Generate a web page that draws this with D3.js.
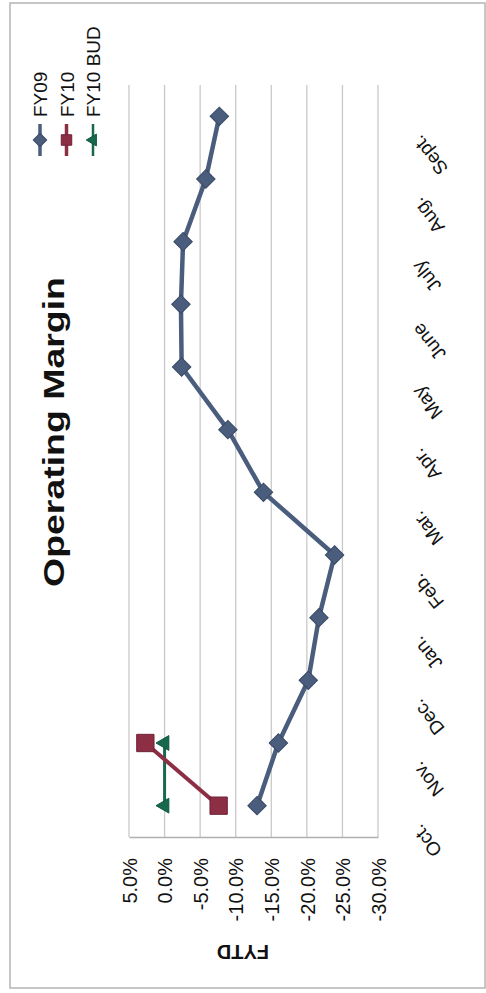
<!DOCTYPE html>
<html>
<head>
<meta charset="utf-8">
<script src="https://cdn.jsdelivr.net/npm/d3@7"></script>
<style>
  html, body { margin: 0; padding: 0; background: #fff; }
  svg { display: block; }
  text { font-family: "Liberation Sans", Arial, sans-serif; }
</style>
</head>
<body>
<svg id="chart" width="486" height="993"></svg>
<script>
// Operating margin, fiscal-year-to-date, by month (page is laid out sideways)
const months = ["Oct.", "Nov.", "Dec.", "Jan.", "Feb.", "Mar.", "Apr.", "May", "June", "July", "Aug.", "Sept."];
const fy09 = [-13.0, -16.0, -20.2, -21.7, -23.9, -13.9, -8.9, -2.4, -2.3, -2.6, -5.8, -7.7];
const fy10 = [-7.6, 2.7];
const fy10Bud = [0.0, 0.0];
const valueTicks = [5, 0, -5, -10, -15, -20, -25, -30];
const seriesNames = ["FY09", "FY10", "FY10 BUD"];

const svg = d3.select("#chart");
const W = 486, H = 993;

svg.append("rect").attr("width", W).attr("height", H).attr("fill", "#fff");
// outer frame
svg.append("rect")
  .attr("x", 10).attr("y", 3).attr("width", 475).attr("height", 985)
  .attr("fill", "none").attr("stroke", "#b4b4b4").attr("stroke-width", 1.5);

// value axis runs left (5%) to right (-30%); months run bottom (Oct.) to top (Sept.)
const x = d3.scaleLinear().domain([5, -30]).range([129, 378]);
const y = d3.scalePoint().domain(months).range([837, 85]).padding(0.5);
const plotTop = 85, plotBottom = 837;

// gridlines
svg.append("g").selectAll("line").data(valueTicks).join("line")
  .attr("x1", d => x(d)).attr("x2", d => x(d))
  .attr("y1", plotTop).attr("y2", plotBottom)
  .attr("stroke", "#c9c9c9").attr("stroke-width", 1.3);

// value axis (labels under the plot, turned to read upward)
const xAxis = svg.append("g")
  .attr("transform", `translate(0,${plotBottom})`)
  .call(d3.axisBottom(x).tickValues(valueTicks).tickSize(0).tickSizeOuter(0)
    .tickFormat(d => d.toFixed(1) + "%"));
xAxis.select(".domain").attr("stroke", "#b0b0b0").attr("stroke-width", 1.3);
xAxis.selectAll(".tick text")
  .attr("transform", "rotate(-90)")
  .attr("x", -21).attr("y", 0).attr("dy", "0.36em")
  .attr("text-anchor", "end")
  .attr("font-size", 20)
  .attr("fill", "#111");

// value axis title
svg.append("text")
  .attr("transform", "translate(243,945) rotate(180)")
  .attr("text-anchor", "middle")
  .attr("font-size", 20).attr("font-weight", "bold").attr("fill", "#111")
  .text("FYTD");

// category axis (month labels on the right side)
const yAxis = svg.append("g")
  .attr("transform", `translate(378,0)`)
  .call(d3.axisRight(y).tickSize(0));
yAxis.select(".domain").remove();
yAxis.selectAll(".tick text")
  .attr("transform", "translate(43,17) rotate(-129)")
  .attr("x", 0).attr("y", 0).attr("dy", 0)
  .attr("text-anchor", "end")
  .attr("font-size", 19)
  .attr("fill", "#111");

// title
svg.append("text")
  .attr("transform", "translate(64,432) rotate(-90)")
  .attr("text-anchor", "middle")
  .attr("font-size", 30).attr("font-weight", "bold").attr("fill", "#111")
  .attr("textLength", 310).attr("lengthAdjust", "spacingAndGlyphs")
  .text("Operating Margin");

const colors = { fy09: "#4a5d7d", fy10: "#8c2f45", bud: "#17684c" };

const line = d3.line().x(d => x(d.v)).y(d => y(d.m));
const pts = arr => arr.map((v, i) => ({ m: months[i], v }));

const diamond = d3.symbol().type(d3.symbolSquare).size(170)();
const square = d3.symbol().type(d3.symbolSquare).size(300)();
const triangle = d3.symbol().type(d3.symbolTriangle).size(95)();

function drawSeries(data, color, width, shape, rot, stroke) {
  svg.append("path").datum(data)
    .attr("d", line).attr("fill", "none")
    .attr("stroke", color).attr("stroke-width", width)
    .attr("stroke-linejoin", "round");
  svg.append("g").selectAll("path").data(data).join("path")
    .attr("d", shape)
    .attr("transform", d => `translate(${x(d.v)},${y(d.m)}) rotate(${rot})`)
    .attr("fill", color).attr("stroke", stroke).attr("stroke-width", 1);
}

drawSeries(pts(fy09), colors.fy09, 4.5, diamond, 45, "#3a4a66");
drawSeries(pts(fy10Bud), colors.bud, 3, triangle, -90, "#0f5a40");
drawSeries(pts(fy10), colors.fy10, 4, square, 0, "#6e2236");

// legend (entries stacked left to right, text reading upward)
const legend = [
  { name: seriesNames[0], color: colors.fy09, rot: 45, w: 3.5, stroke: "#3a4a66",
    shape: d3.symbol().type(d3.symbolSquare).size(90)() },
  { name: seriesNames[1], color: colors.fy10, rot: 0, w: 3.5, stroke: "#6e2236",
    shape: d3.symbol().type(d3.symbolSquare).size(110)() },
  { name: seriesNames[2], color: colors.bud, rot: -90, w: 2.5, stroke: "#0f5a40",
    shape: d3.symbol().type(d3.symbolTriangle).size(60)() }
];
const lg = svg.append("g").selectAll("g").data(legend).join("g")
  .attr("transform", (d, i) => `translate(${40 + i * 26.5},0)`);
lg.append("line")
  .attr("x1", 0).attr("x2", 0).attr("y1", 124).attr("y2", 156)
  .attr("stroke", d => d.color).attr("stroke-width", d => d.w);
lg.append("path")
  .attr("d", d => d.shape)
  .attr("transform", d => `translate(0,140) rotate(${d.rot})`)
  .attr("fill", d => d.color).attr("stroke", d => d.stroke).attr("stroke-width", 1);
lg.append("text")
  .attr("transform", "translate(7,117) rotate(-90)")
  .attr("text-anchor", "start")
  .attr("font-size", 19).attr("fill", "#111")
  .text(d => d.name);
</script>
</body>
</html>
